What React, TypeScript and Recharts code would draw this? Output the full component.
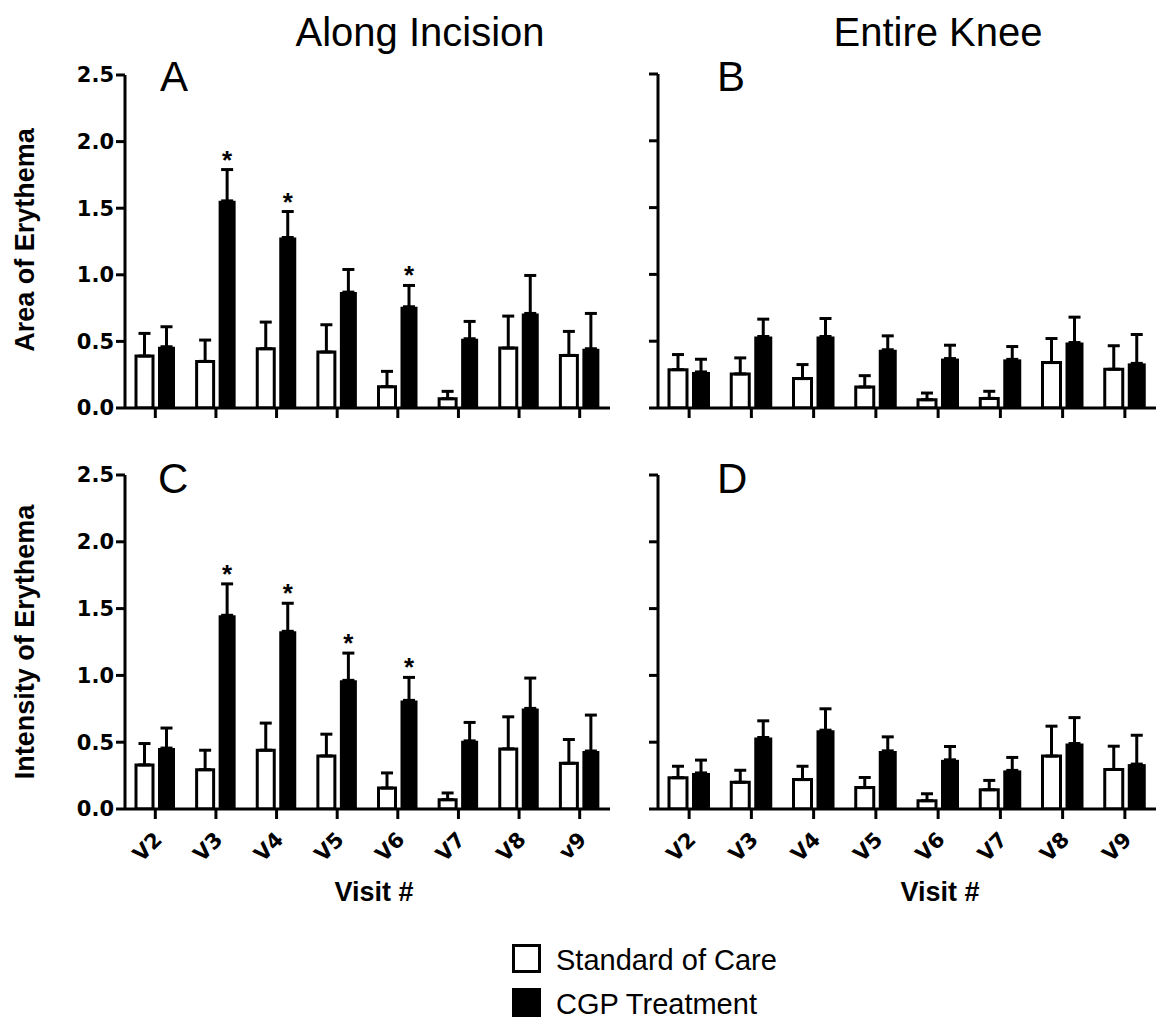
import React from "react";
import { BarChart, Bar, XAxis, YAxis, ErrorBar, Rectangle } from "recharts";

const visits = ["V2", "V3", "V4", "V5", "V6", "V7", "V8", "V9"];
const tickLabelsIncision = ["V2", "V3", "V4", "V5", "V6", "V7", "V8", "v9"];
const tickLabelsKnee = ["V2", "V3", "V4", "V5", "V6", "V7", "V8", "V9"];
const yTicks = [0, 0.5, 1, 1.5, 2, 2.5];

// A: area, along incision
const areaIncisionSoc = [0.39, 0.35, 0.445, 0.42, 0.16, 0.07, 0.45, 0.395];
const areaIncisionSocSem = [0.17, 0.16, 0.2, 0.205, 0.115, 0.055, 0.24, 0.18];
const areaIncisionCgp = [0.46, 1.555, 1.28, 0.87, 0.76, 0.52, 0.71, 0.445];
const areaIncisionCgpSem = [0.15, 0.235, 0.195, 0.17, 0.16, 0.13, 0.285, 0.265];
const areaIncisionStars = [0, 1, 1, 0, 1, 0, 0, 0];

// B: area, entire knee
const areaKneeSoc = [0.287, 0.255, 0.22, 0.157, 0.062, 0.072, 0.34, 0.29];
const areaKneeSocSem = [0.113, 0.12, 0.105, 0.085, 0.05, 0.053, 0.18, 0.176];
const areaKneeCgp = [0.27, 0.535, 0.535, 0.436, 0.37, 0.364, 0.49, 0.334];
const areaKneeCgpSem = [0.095, 0.13, 0.135, 0.104, 0.1, 0.096, 0.19, 0.216];
const areaKneeStars = [0, 0, 0, 0, 0, 0, 0, 0];

// C: intensity, along incision
const intIncisionSoc = [0.33, 0.294, 0.44, 0.397, 0.157, 0.07, 0.45, 0.342];
const intIncisionSocSem = [0.16, 0.146, 0.203, 0.163, 0.113, 0.05, 0.24, 0.178];
const intIncisionCgp = [0.456, 1.45, 1.33, 0.963, 0.813, 0.51, 0.753, 0.434];
const intIncisionCgpSem = [0.15, 0.235, 0.21, 0.204, 0.172, 0.138, 0.227, 0.269];
const intIncisionStars = [0, 1, 1, 1, 1, 0, 0, 0];

// D: intensity, entire knee
const intKneeSoc = [0.234, 0.2, 0.22, 0.16, 0.062, 0.144, 0.396, 0.296];
const intKneeSocSem = [0.086, 0.09, 0.1, 0.076, 0.052, 0.07, 0.224, 0.174];
const intKneeCgp = [0.27, 0.535, 0.59, 0.435, 0.368, 0.289, 0.49, 0.336];
const intKneeCgpSem = [0.096, 0.125, 0.16, 0.105, 0.1, 0.097, 0.194, 0.216];
const intKneeStars = [0, 0, 0, 0, 0, 0, 0, 0];

const makeRows = (soc, socSem, cgp, cgpSem, stars) =>
  visits.map((v, i) => ({
    visit: v,
    soc: soc[i],
    socErr: [0, socSem[i]],
    cgp: cgp[i],
    cgpErr: [0, cgpSem[i]],
    cgpSem: cgpSem[i],
    star: stars[i] === 1,
  }));

const SANS = "'Liberation Sans', Arial, Helvetica, sans-serif";
const TICKFONT = "'DejaVu Sans', sans-serif";

const CgpShape = (p) => {
  const row = p.payload || {};
  let star = null;
  if (row.star && row.cgp > 0) {
    const ppu = p.height / row.cgp;
    const yTop = p.y - row.cgpSem * ppu;
    star = (
      <text x={p.x + p.width / 2} y={yTop - 1} textAnchor="middle" fontFamily={SANS} fontWeight="bold" fontSize={26} fill="#000">
        *
      </text>
    );
  }
  return (
    <g>
      <Rectangle x={p.x} y={p.y} width={p.width} height={p.height} fill="#000" />
      {star}
    </g>
  );
};

const makeXTick = (labels) => (props) => {
  const { x, y, payload } = props;
  const label = labels[visits.indexOf(payload.value)];
  return (
    <g transform={`translate(${x},${y})`}>
      <text x={0} y={0} transform="translate(8,20) rotate(-45)" textAnchor="end" fontFamily={TICKFONT} fontWeight="bold" fontSize={21} fill="#000">
        {label}
      </text>
    </g>
  );
};

const blank = () => "";

function Panel({ rows, left, top, width, height, margin, showY, xLabels, barSize }) {
  return (
    <div style={{ position: "absolute", left, top, width, height }}>
      <BarChart width={width} height={height} data={rows} margin={margin} barSize={barSize} barGap={5}>
        <XAxis
          dataKey="visit"
          height={32}
          interval={0}
          axisLine={{ stroke: "#000", strokeWidth: 3 }}
          tickLine={{ stroke: "#000", strokeWidth: 3 }}
          tickSize={10}
          tick={xLabels ? makeXTick(xLabels) : { fill: "#000" }}
          tickFormatter={xLabels ? undefined : blank}
        />
        <YAxis
          width={60}
          domain={[0, 2.5]}
          ticks={yTicks}
          interval={0}
          allowDataOverflow
          axisLine={{ stroke: "#000", strokeWidth: 3 }}
          tickLine={{ stroke: "#000", strokeWidth: 3 }}
          tickSize={9}
          tickMargin={2}
          tick={{ fill: "#000", fontFamily: TICKFONT, fontWeight: "bold", fontSize: 21 }}
          tickFormatter={showY ? (v) => v.toFixed(1) : blank}
        />
        <Bar dataKey="soc" fill="#fff" stroke="#000" strokeWidth={3} isAnimationActive={false}>
          <ErrorBar dataKey="socErr" direction="y" width={6} stroke="#000" strokeWidth={3} />
        </Bar>
        <Bar dataKey="cgp" fill="#000" shape={CgpShape} isAnimationActive={false}>
          <ErrorBar dataKey="cgpErr" direction="y" width={6} stroke="#000" strokeWidth={3} />
        </Bar>
      </BarChart>
    </div>
  );
}

export default function App() {
  const rowsA = makeRows(areaIncisionSoc, areaIncisionSocSem, areaIncisionCgp, areaIncisionCgpSem, areaIncisionStars);
  const rowsB = makeRows(areaKneeSoc, areaKneeSocSem, areaKneeCgp, areaKneeCgpSem, areaKneeStars);
  const rowsC = makeRows(intIncisionSoc, intIncisionSocSem, intIncisionCgp, intIncisionCgpSem, intIncisionStars);
  const rowsD = makeRows(intKneeSoc, intKneeSocSem, intKneeCgp, intKneeCgpSem, intKneeStars);

  return (
    <div style={{ position: "absolute", left: 0, top: 0, width: 1156, height: 1021, background: "#fff", overflow: "hidden" }}>
      <Panel rows={rowsA} left={0} top={0} width={640} height={440} margin={{ top: 75, right: 30, bottom: 0, left: 65 }} showY barSize={17} />
      <Panel rows={rowsB} left={598} top={0} width={558} height={440} margin={{ top: 74, right: 0, bottom: 0, left: 0 }} showY={false} barSize={18} />
      <Panel rows={rowsC} left={0} top={400} width={640} height={520} margin={{ top: 75, right: 30, bottom: 79, left: 65 }} showY xLabels={tickLabelsIncision} barSize={17} />
      <Panel rows={rowsD} left={598} top={400} width={558} height={520} margin={{ top: 75, right: 0, bottom: 79, left: 0 }} showY={false} xLabels={tickLabelsKnee} barSize={18} />

      <svg width={1156} height={1021} style={{ position: "absolute", left: 0, top: 0, pointerEvents: "none" }}>
        <g fontFamily={SANS} fill="#000">
          <text x={420} y={46} fontSize={40} textAnchor="middle">Along Incision</text>
          <text x={938} y={46} fontSize={40} textAnchor="middle">Entire Knee</text>
          <text x={160} y={91} fontSize={42}>A</text>
          <text x={717} y={91} fontSize={42}>B</text>
          <text x={158} y={493} fontSize={42}>C</text>
          <text x={717} y={493} fontSize={42}>D</text>
          <text transform="translate(34,240) rotate(-90)" fontSize={27} fontWeight="bold" textAnchor="middle">Area of Erythema</text>
          <text transform="translate(34,642) rotate(-90)" fontSize={27} fontWeight="bold" textAnchor="middle">Intensity of Erythema</text>
          <text x={374} y={901} fontSize={27} fontWeight="bold" textAnchor="middle">Visit #</text>
          <text x={940} y={901} fontSize={27} fontWeight="bold" textAnchor="middle">Visit #</text>
          <rect x={513.5} y={945.5} width={26} height={26} fill="#fff" stroke="#000" strokeWidth={3} />
          <rect x={512} y={988} width={29} height={29} fill="#000" />
          <text x={556} y={970} fontSize={29}>Standard of Care</text>
          <text x={556} y={1014} fontSize={29}>CGP Treatment</text>
        </g>
      </svg>
    </div>
  );
}
